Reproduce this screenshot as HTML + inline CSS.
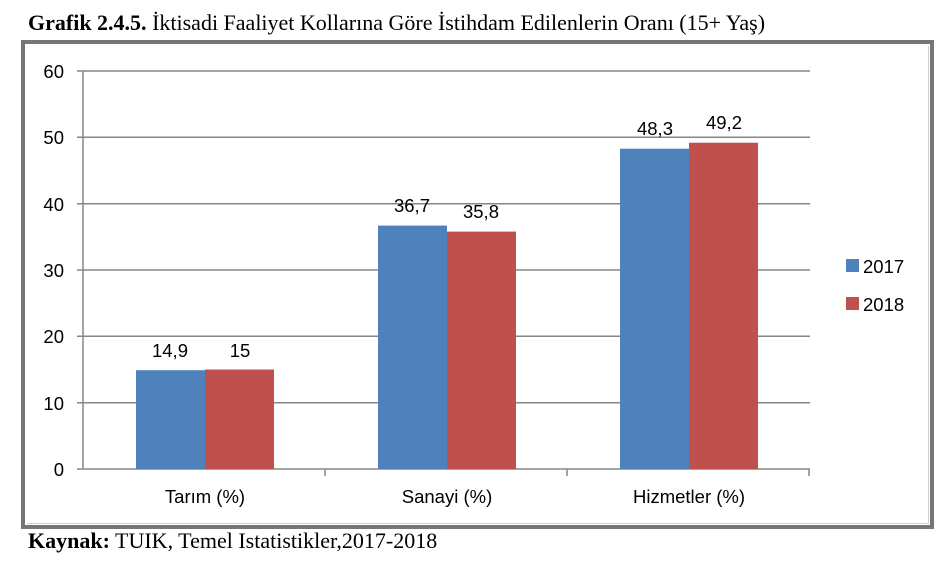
<!DOCTYPE html>
<html><head><meta charset="utf-8"><style>
body{margin:0;background:#fff;width:945px;height:568px;overflow:hidden;position:relative;font-family:"Liberation Serif",serif}
.t{position:absolute;left:28px;top:10px;font-size:22px;color:#000;white-space:nowrap}
.s{position:absolute;left:28px;top:528px;font-size:22px;white-space:nowrap}
</style></head><body>
<div class="t"><b>Grafik 2.4.5.</b> İktisadi Faaliyet Kollarına Göre İstihdam Edilenlerin Oranı (15+ Yaş)</div>
<svg width="945" height="568" style="position:absolute;left:0;top:0">
<rect x="23" y="42" width="909" height="485" fill="none" stroke="#767676" stroke-width="4"/>
<line x1="27" y1="523.5" x2="929" y2="523.5" stroke="#d0d0d0" stroke-width="1"/>
<line x1="928.5" y1="46" x2="928.5" y2="524" stroke="#d0d0d0" stroke-width="1"/>
<g stroke="#868686" stroke-width="1.5">
<line x1="77" y1="71" x2="810" y2="71"/><line x1="77" y1="137.3" x2="810" y2="137.3"/>
<line x1="77" y1="203.7" x2="810" y2="203.7"/><line x1="77" y1="270" x2="810" y2="270"/>
<line x1="77" y1="336.3" x2="810" y2="336.3"/><line x1="77" y1="402.7" x2="810" y2="402.7"/>
<line x1="77" y1="469" x2="810" y2="469"/><line x1="83" y1="71" x2="83" y2="469"/>
<line x1="325" y1="469" x2="325" y2="476"/><line x1="567" y1="469" x2="567" y2="476"/><line x1="809" y1="469" x2="809" y2="476"/>
</g>
<g fill="#4f81bd"><rect x="136" y="370.2" width="69" height="98.8"/><rect x="378" y="225.6" width="69" height="243.4"/><rect x="620" y="148.7" width="69" height="320.3"/><rect x="846" y="259" width="13" height="13"/></g>
<g fill="#c0504d"><rect x="205" y="369.5" width="69" height="99.5"/><rect x="447" y="231.6" width="69" height="237.4"/><rect x="689" y="142.7" width="69" height="326.3"/><rect x="846" y="297" width="13" height="13"/></g>
<g font-family="Liberation Sans,sans-serif" font-size="18.5" fill="#000">
<g text-anchor="end"><text x="64" y="78">60</text><text x="64" y="144">50</text><text x="64" y="211">40</text><text x="64" y="277">30</text><text x="64" y="343">20</text><text x="64" y="410">10</text><text x="64" y="476">0</text></g>
<g text-anchor="middle"><text x="170" y="357">14,9</text><text x="240" y="357">15</text><text x="412" y="212">36,7</text><text x="481" y="218">35,8</text><text x="655" y="135">48,3</text><text x="724" y="129">49,2</text>
<text x="205" y="503">Tarım (%)</text><text x="447" y="503">Sanayi (%)</text><text x="689" y="503">Hizmetler (%)</text></g>
<text x="863" y="273">2017</text><text x="863" y="311">2018</text></g>
</svg>
<div class="s"><b>Kaynak:</b> TUIK, Temel Istatistikler,2017-2018</div>
</body></html>
